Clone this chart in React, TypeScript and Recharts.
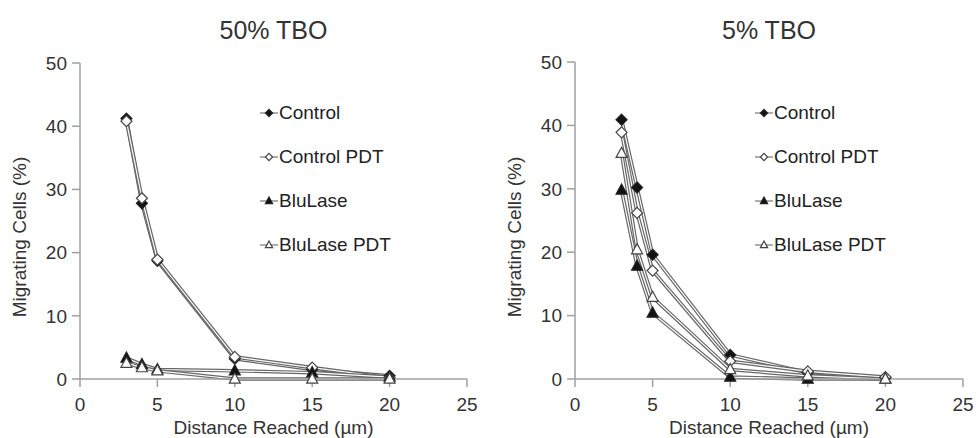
import React from "react";
import { CartesianGrid, Line, LineChart, XAxis, YAxis } from "recharts";

const FONT = "'Liberation Sans', Arial, sans-serif";

const distances = [3, 4, 5, 10, 15, 20];
const xTicks = [0, 5, 10, 15, 20, 25];
const yTicks = [0, 10, 20, 30, 40, 50];

const seriesNames = ["Control", "Control PDT", "BluLase", "BluLase PDT"];
const seriesMarkers = ["diamondFilled", "diamondOpen", "triangleFilled", "triangleOpen"];

// 50% TBO
const tbo50Control = [41.2, 27.8, 18.7, 3.2, 1.5, 0.5];
const tbo50ControlPdt = [40.8, 28.6, 18.9, 3.5, 1.8, 0.2];
const tbo50BluLase = [3.3, 2.3, 1.5, 1.3, 1.0, 0.3];
const tbo50BluLasePdt = [2.5, 1.8, 1.3, 0, 0, 0];

// 5% TBO
const tbo5Control = [40.9, 30.2, 19.6, 3.8, 1.0, 0.2];
const tbo5ControlPdt = [38.9, 26.2, 17.1, 2.8, 1.2, 0.3];
const tbo5BluLase = [29.8, 17.8, 10.4, 0.3, 0, 0];
const tbo5BluLasePdt = [35.6, 20.4, 12.9, 1.5, 0.5, 0];

const buildRows = (cols: number[][]) =>
  distances.map((d, i) => {
    const row: Record<string, number> = { x: d };
    cols.forEach((c, j) => (row[`s${j}`] = c[i]));
    return row;
  });

function Marker({ cx, cy, kind, r = 5.5 }: { cx: number; cy: number; kind: string; r?: number }) {
  const filled = kind.endsWith("Filled");
  const fill = filled ? "#111" : "#fff";
  const stroke = filled ? "#222" : "#444";
  if (kind.startsWith("diamond")) {
    const pts = `${cx},${cy - r} ${cx + r},${cy} ${cx},${cy + r} ${cx - r},${cy}`;
    return <polygon points={pts} fill={fill} stroke={stroke} strokeWidth={1.2} />;
  }
  const pts = `${cx},${cy - r * 1.1} ${cx + r},${cy + r * 0.75} ${cx - r},${cy + r * 0.75}`;
  return <polygon points={pts} fill={fill} stroke={stroke} strokeWidth={1.2} />;
}

function Panel({
  title,
  cols,
  left,
  yAxisWidth,
  marginTop,
  marginRight,
  legendX,
}: {
  title: string;
  cols: number[][];
  left: number;
  yAxisWidth: number;
  marginTop: number;
  marginRight: number;
  legendX: number;
}) {
  const data = buildRows(cols);
  const plotLeft = yAxisWidth;
  const plotRight = 488 - marginRight;
  const plotCenter = (plotLeft + plotRight) / 2;
  const tickStyle = { fill: "#333", fontSize: 19, fontFamily: FONT };

  return (
    <div style={{ position: "absolute", left, top: 0, width: 488, height: 438 }}>
      <LineChart
        width={488}
        height={438}
        data={data}
        margin={{ top: marginTop, right: marginRight, bottom: 0, left: 0 }}
      >
        <CartesianGrid stroke="none" />
        <XAxis
          dataKey="x"
          type="number"
          domain={[0, 25]}
          ticks={xTicks}
          height={59}
          stroke="#a0a0a0"
          strokeWidth={1.5}
          tickSize={8}
          tickMargin={11}
          tick={tickStyle}
        />
        <YAxis
          type="number"
          domain={[0, 50]}
          ticks={yTicks}
          width={yAxisWidth}
          stroke="#a0a0a0"
          strokeWidth={1.5}
          tickSize={8}
          tickMargin={5}
          tick={tickStyle}
        />
        {seriesNames.flatMap((name, j) => [
          <Line
            key={`o${j}`}
            dataKey={`s${j}`}
            name={`${name} outline`}
            stroke="#666"
            strokeWidth={3.6}
            dot={false}
            activeDot={false}
            legendType="none"
            isAnimationActive={false}
          />,
          <Line
            key={`i${j}`}
            dataKey={`s${j}`}
            name={name}
            stroke="#ffffff"
            strokeWidth={1.2}
            dot={(p: any) => (
              <Marker key={`m${j}-${p.index}`} cx={p.cx} cy={p.cy} kind={seriesMarkers[j]} />
            )}
            activeDot={false}
            isAnimationActive={false}
          />,
        ])}
      </LineChart>

      <div
        style={{
          position: "absolute",
          left: 0,
          width: 488,
          top: 16,
          textAlign: "center",
          fontFamily: FONT,
          fontSize: 25,
          color: "#333",
          paddingLeft: plotCenter * 2 - 488,
          boxSizing: "border-box",
        }}
      >
        {title}
      </div>

      <div
        style={{
          position: "absolute",
          left: plotCenter - 150,
          width: 300,
          top: 417,
          textAlign: "center",
          fontFamily: FONT,
          fontSize: 19,
          color: "#333",
          whiteSpace: "nowrap",
        }}
      >
        Distance Reached (µm)
      </div>

      <div
        style={{
          position: "absolute",
          left: yAxisWidth - 60 - 150,
          top: 237 - 12,
          width: 300,
          height: 24,
          lineHeight: "24px",
          textAlign: "center",
          transform: "rotate(-90deg)",
          fontFamily: FONT,
          fontSize: 19,
          color: "#333",
          whiteSpace: "nowrap",
        }}
      >
        Migrating Cells (%)
      </div>

      <div style={{ position: "absolute", left: legendX, top: 91 }}>
        {seriesNames.map((name, j) => (
          <div
            key={name}
            style={{
              display: "flex",
              alignItems: "center",
              height: 44,
              fontFamily: FONT,
              fontSize: 19,
              color: "#222",
            }}
          >
            <svg width={18} height={12} style={{ marginRight: 1, display: "block" }}>
              <line x1={0} y1={6} x2={18} y2={6} stroke="#777" strokeWidth={1.2} />
              <Marker cx={9} cy={6} kind={seriesMarkers[j]} r={3.6} />
            </svg>
            <span style={{ lineHeight: "22px" }}>{name}</span>
          </div>
        ))}
      </div>
    </div>
  );
}

export default function App() {
  return (
    <div
      style={{
        position: "absolute",
        left: 0,
        top: 0,
        width: 976,
        height: 438,
        background: "#fff",
        overflow: "hidden",
      }}
    >
      <Panel
        title="50% TBO"
        cols={[tbo50Control, tbo50ControlPdt, tbo50BluLase, tbo50BluLasePdt]}
        left={0}
        yAxisWidth={80}
        marginTop={63}
        marginRight={21}
        legendX={260}
      />
      <Panel
        title="5% TBO"
        cols={[tbo5Control, tbo5ControlPdt, tbo5BluLase, tbo5BluLasePdt]}
        left={488}
        yAxisWidth={87}
        marginTop={62}
        marginRight={13}
        legendX={267}
      />
    </div>
  );
}
